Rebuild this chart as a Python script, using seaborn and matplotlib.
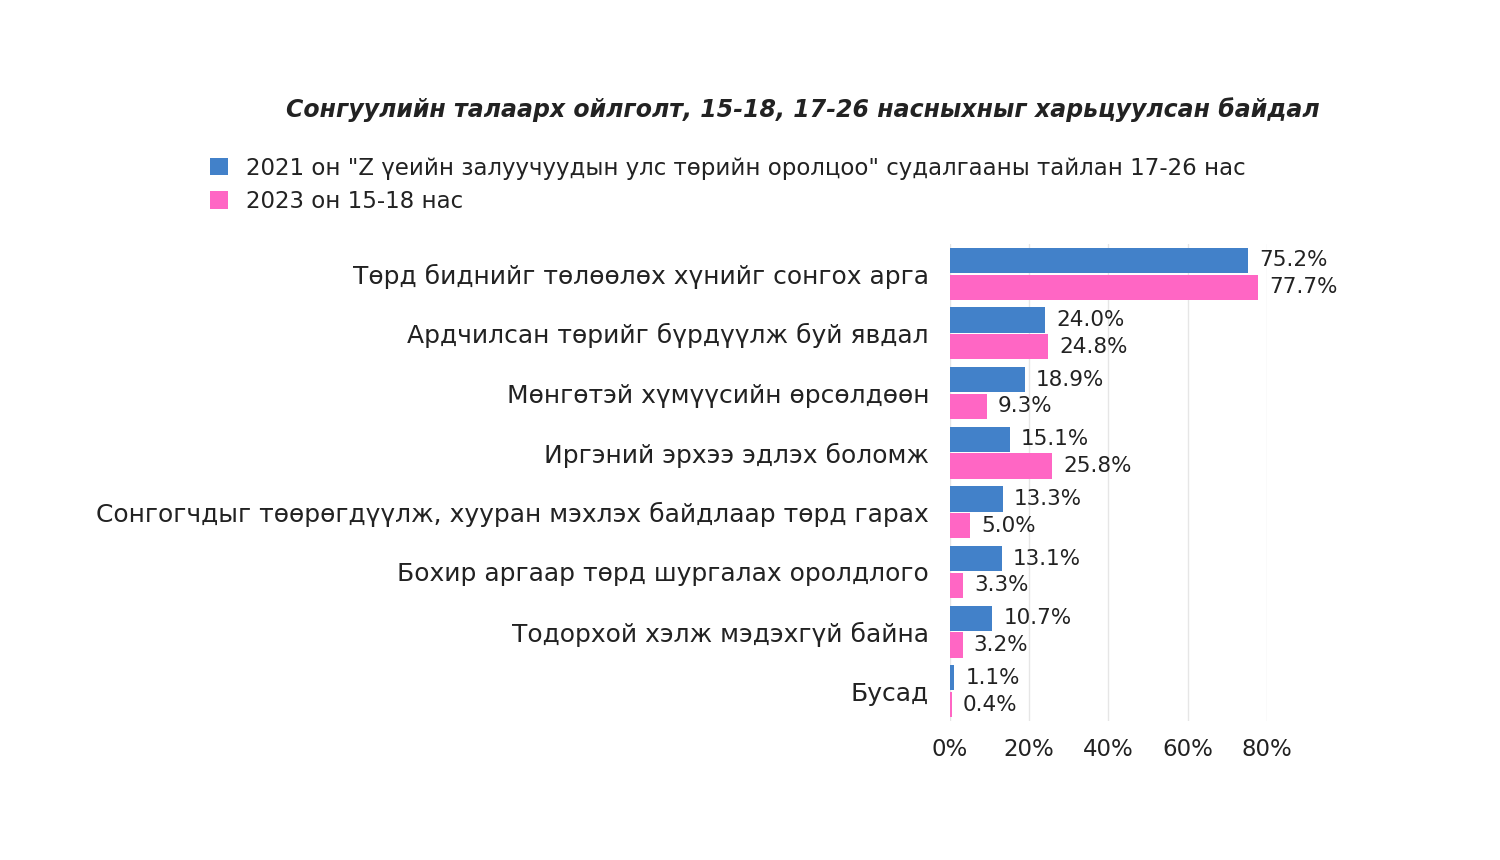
import pandas as pd
import seaborn as sns
import matplotlib.pyplot as plt
from matplotlib.patches import Patch
from matplotlib.ticker import PercentFormatter

categories = [
    'Төрд биднийг төлөөлөх хүнийг сонгох арга',
    'Ардчилсан төрийг бүрдүүлж буй явдал',
    'Мөнгөтэй хүмүүсийн өрсөлдөөн',
    'Иргэний эрхээ эдлэх боломж',
    'Сонгогчдыг төөрөгдүүлж, хууран мэхлэх байдлаар төрд гарах',
    'Бохир аргаар төрд шургалах оролдлого',
    'Тодорхой хэлж мэдэхгүй байна',
    'Бусад',
]
series_names = [
    '2021 он "Z үеийн залуучуудын улс төрийн оролцоо" судалгааны тайлан 17-26 нас',
    '2023 он 15-18 нас',
]
values_2021 = [75.2, 24.0, 18.9, 15.1, 13.3, 13.1, 10.7, 1.1]
values_2023 = [77.7, 24.8, 9.3, 25.8, 5.0, 3.3, 3.2, 0.4]
colors = ['#4281C9', '#FF66C4']

df = pd.DataFrame({
    'Category': categories * 2,
    'Series': [series_names[0]] * len(categories) + [series_names[1]] * len(categories),
    'Value': values_2021 + values_2023,
})

sns.set_style('white')
plt.rcParams['font.family'] = ['DejaVu Sans']
plt.rcParams['text.color'] = '#222222'

fig = plt.figure(figsize=(15, 8.6), dpi=100)
ax = fig.add_axes([0.6333, 0.1616, 0.2113, 0.5547])

sns.barplot(data=df, y='Category', x='Value', hue='Series', orient='h',
            palette=colors, saturation=1, width=0.9, gap=0.06, linewidth=0,
            ax=ax, legend=False)

for cont in ax.containers:
    ax.bar_label(cont, fmt='%.1f%%', padding=8, fontsize=15.5, color='#222222')

ax.set_xlim(0, 80)
ax.set_ylim(7.5, -0.5)
ax.xaxis.set_major_formatter(PercentFormatter(decimals=0))
ax.set_xticks([0, 20, 40, 60, 80])
ax.grid(axis='x', color='#e6e6e6', linewidth=1)
ax.set_axisbelow(True)
for s in ax.spines.values():
    s.set_visible(False)
ax.tick_params(axis='y', length=0, pad=15, labelsize=18, labelcolor='#222222')
ax.tick_params(axis='x', length=0, pad=12, labelsize=16.5, labelcolor='#222222')
ax.set_xlabel('')
ax.set_ylabel('')

fig.text(0.535, 0.872, 'Сонгуулийн талаарх ойлголт, 15-18, 17-26 насныхныг харьцуулсан байдал',
         ha='center', va='center', fontsize=17, fontweight='bold', fontstyle='italic')

handles = [Patch(facecolor=c, edgecolor='none') for c in colors]
fig.legend(handles, series_names, loc='upper left', bbox_to_anchor=(0.126, 0.842),
           frameon=False, fontsize=16.5, handlelength=0.8, handleheight=0.8,
           handletextpad=0.8, labelspacing=0.45)

fig.savefig('out.png', dpi=100, facecolor='white')
